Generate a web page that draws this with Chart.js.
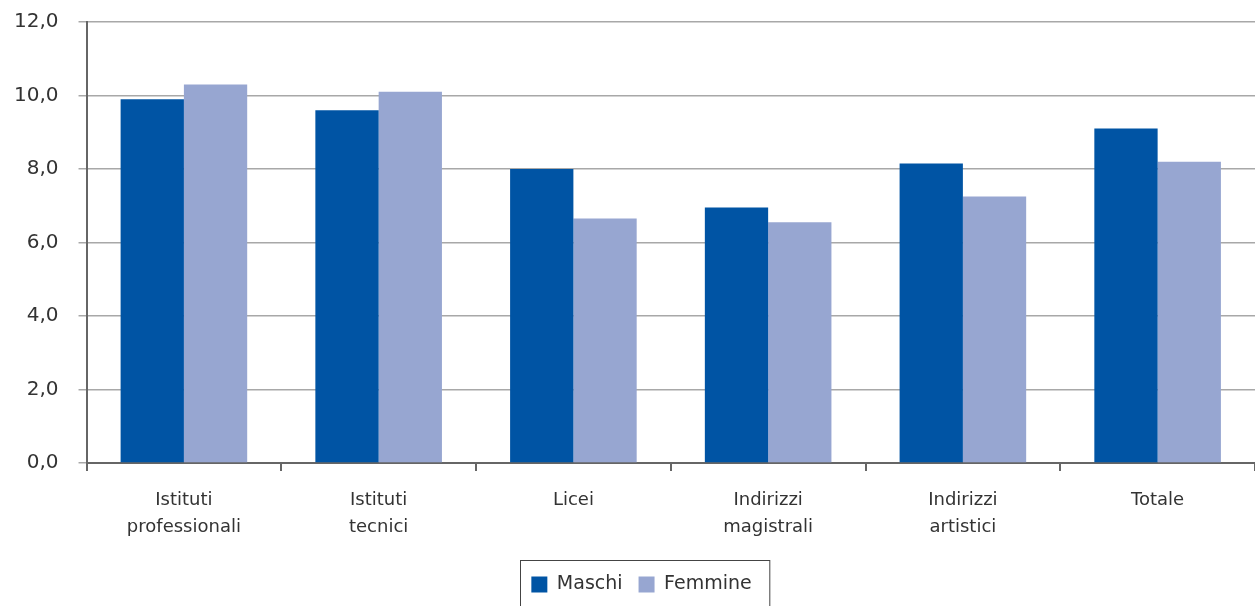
<!DOCTYPE html>
<html>
<head>
<meta charset="utf-8">
<script src="https://cdn.jsdelivr.net/npm/chart.js@4/dist/chart.umd.min.js"></script>
<style>
  html, body { margin: 0; padding: 0; background: #fff; }
  #wrap { width: 1255px; height: 606px; }
</style>
</head>
<body>
<div id="wrap"><canvas id="myChart"></canvas></div>
<script>
const categories = [
    ['Istituti', 'professionali'],
    ['Istituti', 'tecnici'],
    'Licei',
    ['Indirizzi', 'magistrali'],
    ['Indirizzi', 'artistici'],
    'Totale'
];
const maschi = [9.9, 9.6, 8.0, 6.95, 8.15, 9.1];
const femmine = [10.3, 10.1, 6.65, 6.55, 7.25, 8.2];
const yTicks = ['0,0', '2,0', '4,0', '6,0', '8,0', '10,0', '12,0'];

// box round the legend, like the original
const legendBorder = {
    id: 'legendBorder',
    afterLayout(chart) {
        // the original legend sits a little right of centre
        chart.legend.left += 17;
        chart.legend.right += 17;
    },
    afterDraw(chart) {
        const boxes = chart.legend.legendHitBoxes;
        if (!boxes || !boxes.length) return;
        const left = Math.min(...boxes.map(b => b.left)) - 11;
        const right = Math.max(...boxes.map(b => b.left + b.width)) + 18;
        const top = boxes[0].top - 15;
        const c = chart.ctx;
        c.save();
        c.strokeStyle = '#444';
        c.lineWidth = 1;
        c.strokeRect(Math.round(left) + 0.5, Math.round(top) + 0.5, right - left, 80);
        c.restore();
    }
};

const ctx = document.getElementById('myChart').getContext('2d');
const myChart = new Chart(ctx, {
    type: 'bar',
    data: {
        labels: categories,
        datasets: [{
            label: 'Maschi',
            data: maschi,
            backgroundColor: '#0054a4'
        }, {
            label: 'Femmine',
            data: femmine,
            backgroundColor: '#97a6d1'
        }]
    },
    options: {
        responsive: true,
        maintainAspectRatio: false,
        animation: false,
        layout: { padding: { top: 22, right: 0, left: -6, bottom: 2 } },
        datasets: {
            bar: { barPercentage: 1, categoryPercentage: 0.65 }
        },
        scales: {
            x: {
                afterFit(scale) { scale.height += 2; },
                grid: {
                    drawOnChartArea: false,
                    drawTicks: true,
                    tickLength: 8,
                    color: '#666',
                    lineWidth: 2
                },
                border: { color: '#666', width: 2 },
                ticks: {
                    color: '#333',
                    font: { family: 'DejaVu Sans', size: 18, lineHeight: 1.5 },
                    padding: 16
                }
            },
            y: {
                min: 0,
                max: 12,
                afterFit(scale) { scale.paddingTop = 0; },
                ticks: {
                    stepSize: 2,
                    color: '#333',
                    font: { family: 'DejaVu Sans', size: 20 },
                    padding: 20,
                    callback: (v, i) => yTicks[i]
                },
                grid: {
                    color: '#a8a8a8',
                    lineWidth: 1.5,
                    tickLength: 8
                },
                border: { color: '#666', width: 2 }
            }
        },
        plugins: {
            legend: {
                position: 'bottom',
                labels: {
                    boxWidth: 16,
                    boxHeight: 16,
                    color: '#333',
                    font: { family: 'DejaVu Sans', size: 19 },
                    padding: 16
                }
            },
            tooltip: { enabled: false }
        }
    },
    plugins: [legendBorder]
});
</script>
</body>
</html>
